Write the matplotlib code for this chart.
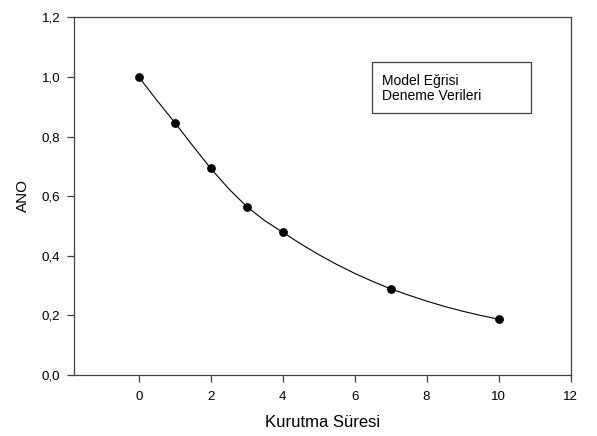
import matplotlib
matplotlib.use("Agg")
import matplotlib.pyplot as plt
from matplotlib.patches import Rectangle
from matplotlib.ticker import FuncFormatter

plt.rcParams['font.family'] = ['Liberation Sans', 'DejaVu Sans']

# Deneme verileri (observed data)
time_data = [0, 1, 2, 3, 4, 7, 10]
ano_data = [1.000, 0.847, 0.693, 0.563, 0.479, 0.289, 0.187]

# Model eğrisi (model curve)
time_model = [0, 0.5, 1, 1.5, 2, 2.5, 3, 3.5, 4, 4.5, 5, 5.5, 6, 6.5,
              7, 7.5, 8, 8.5, 9, 9.5, 10]
ano_model = [1.000, 0.922, 0.847, 0.769, 0.693, 0.625, 0.565, 0.518, 0.479,
             0.440, 0.404, 0.371, 0.341, 0.314, 0.289, 0.268, 0.248, 0.230,
             0.214, 0.200, 0.187]

x_ticks = [0, 2, 4, 6, 8, 10, 12]
y_ticks = [0.0, 0.2, 0.4, 0.6, 0.8, 1.0, 1.2]
legend_labels = ["Model Eğrisi", "Deneme Verileri"]
x_label = "Kurutma Süresi"
y_label = "ANO"

W, H = 597, 436
fig = plt.figure(figsize=(W / 100, H / 100), dpi=100)
ax = fig.add_axes([74 / W, 1 - 375 / H, (570.5 - 74) / W, (375 - 17.3) / H])

ax.plot(time_model, ano_model, color='black', lw=0.8, zorder=2)
ax.plot(time_data, ano_data, 'o', color='black', ms=5.3, zorder=3)

ax.set_xlim(-1.8, 12)
ax.set_ylim(0, 1.2)
ax.set_xticks(x_ticks)
ax.set_yticks(y_ticks)
ax.xaxis.set_major_formatter(FuncFormatter(lambda v, p: f"{v:g}"))
ax.yaxis.set_major_formatter(FuncFormatter(lambda v, p: f"{v:.1f}".replace('.', ',')))

for s in ax.spines.values():
    s.set_color('#404040')
    s.set_linewidth(0.9)
ax.tick_params(axis='both', direction='out', length=5, width=0.9,
               color='#404040', labelsize=9.6, top=False, right=False)
ax.tick_params(axis='x', pad=6.5)
ax.tick_params(axis='y', pad=4.8)

ax.set_xlabel(x_label, fontsize=12)
ax.set_ylabel(y_label, fontsize=11)
ax.xaxis.set_label_coords(0.5, -0.112)
ax.yaxis.set_label_coords(-0.089, 0.503)

# legend box (without symbols, as in the reference)
fig.patches.append(Rectangle((372 / W, 1 - 113.3 / H), (531 - 372) / W, (113.3 - 62.3) / H,
                             transform=fig.transFigure, fill=False,
                             edgecolor='#404040', lw=0.9))
fig.text(381.7 / W, 1 - 81.5 / H, legend_labels[0], fontsize=10, va='center', ha='left')
fig.text(381.7 / W, 1 - 95.5 / H, legend_labels[1], fontsize=10, va='center', ha='left')

fig.savefig("out.png", dpi=100)
